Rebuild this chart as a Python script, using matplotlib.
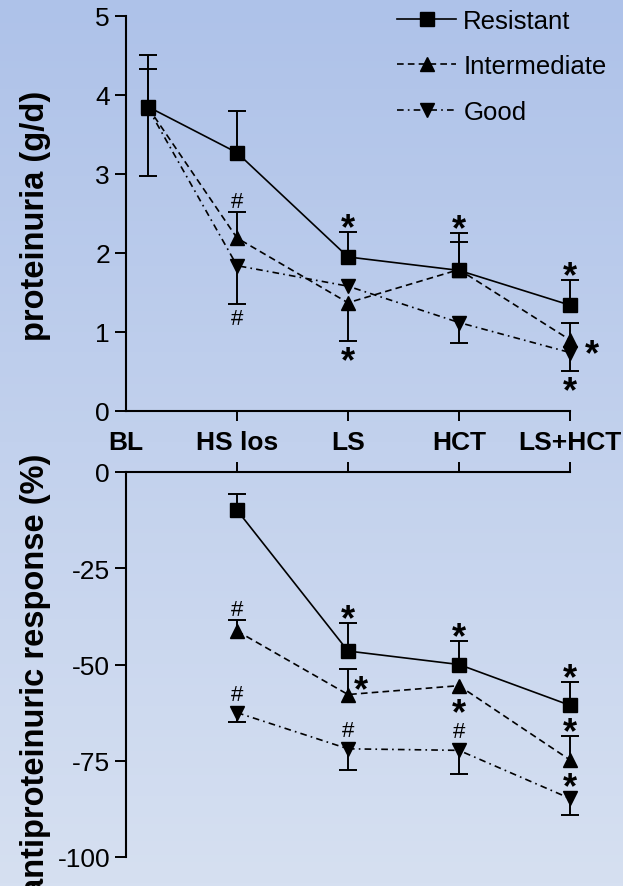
import numpy as np
import matplotlib
matplotlib.use("Agg")
import matplotlib.pyplot as plt
from matplotlib.textpath import TextPath
from matplotlib.font_manager import FontProperties

plt.rcParams["font.family"] = ["Liberation Sans", "DejaVu Sans"]
plt.rcParams["axes.unicode_minus"] = False

# ---------------------------------------------------------------- data
timepoints = ["BL", "HS los", "LS", "HCT", "LS+HCT"]

# proteinuria (g/d), mean with one-sided error bars
prot_resistant = [3.85, 3.27, 1.95, 1.78, 1.34]
prot_resistant_up = [0.66, 0.53, 0.32, 0.47, 0.32]
prot_resistant_down = [0, 0, 0, 0, 0]

prot_intermediate = [3.84, 2.19, 1.37, 1.79, 0.90]
prot_intermediate_up = [0.49, 0.33, 0, 0.35, 0.22]
prot_intermediate_down = [0, 0, 0.48, 0, 0]

prot_good = [3.83, 1.84, 1.58, 1.12, 0.74]
prot_good_up = [0, 0, 0, 0, 0]
prot_good_down = [0.86, 0.48, 0, 0.26, 0.23]

# antiproteinuric response (%) relative to baseline
resp_resistant = [np.nan, -9.9, -46.5, -50.0, -60.6]
resp_resistant_up = [0, 4.2, 7.3, 6.1, 6.1]
resp_resistant_down = [0, 0, 0, 0, 0]

resp_intermediate = [np.nan, -41.3, -57.8, -55.5, -74.8]
resp_intermediate_up = [0, 2.8, 6.6, 0, 6.2]
resp_intermediate_down = [0, 0, 0, 0, 0]

resp_good = [np.nan, -62.5, -71.9, -72.3, -84.8]
resp_good_up = [0, 0, 0, 0, 0]
resp_good_down = [0, 2.5, 5.5, 6.1, 4.3]

# significance marks: (panel, group, timepoint index, symbol, side)
marks = [
    ("prot", "Intermediate", 1, "#", "above"),
    ("prot", "Good", 1, "#", "below"),
    ("prot", "Resistant", 2, "*", "above"),
    ("prot", "Intermediate", 2, "*", "below"),
    ("prot", "Resistant", 3, "*", "above"),
    ("prot", "Resistant", 4, "*", "above"),
    ("prot", "Intermediate", 4, "*", "right"),
    ("prot", "Good", 4, "*", "below"),
    ("resp", "Intermediate", 1, "#", "above"),
    ("resp", "Good", 1, "#", "above"),
    ("resp", "Resistant", 2, "*", "above"),
    ("resp", "Intermediate", 2, "*", "upper right"),
    ("resp", "Good", 2, "#", "above"),
    ("resp", "Resistant", 3, "*", "above"),
    ("resp", "Intermediate", 3, "*", "below"),
    ("resp", "Good", 3, "#", "above"),
    ("resp", "Resistant", 4, "*", "above"),
    ("resp", "Intermediate", 4, "*", "above"),
    ("resp", "Good", 4, "*", "above"),
]

# ---------------------------------------------------------------- styles
groups = ["Resistant", "Intermediate", "Good"]
style = {
    "Resistant": dict(marker="s", ls="-"),
    "Intermediate": dict(marker="^", ls=(0, (4, 2.5))),
    "Good": dict(marker="v", ls=(0, (4, 2.5, 1, 2.5))),
}
panels = {
    "prot": {
        "Resistant": (prot_resistant, prot_resistant_up, prot_resistant_down),
        "Intermediate": (prot_intermediate, prot_intermediate_up, prot_intermediate_down),
        "Good": (prot_good, prot_good_up, prot_good_down),
    },
    "resp": {
        "Resistant": (resp_resistant, resp_resistant_up, resp_resistant_down),
        "Intermediate": (resp_intermediate, resp_intermediate_up, resp_intermediate_down),
        "Good": (resp_good, resp_good_up, resp_good_down),
    },
}

W, H = 623, 887
PX = 72 / 100  # points per pixel
LW = 1.2
MS = 10
MARKER_HALF_PX = 7.5
BL_SHIFT = 0.2

fig = plt.figure(figsize=(W / 100, H / 100), dpi=100)

# soft vertical background gradient
bg = fig.add_axes([0, 0, 1, 1], zorder=-10)
t = np.linspace(0, 1, 256)[:, None, None]
top_c = np.array([174, 194, 233]) / 255
bot_c = np.array([214, 224, 241]) / 255
bg.imshow(top_c * (1 - t) + bot_c * t, aspect="auto", extent=[0, 1, 0, 1], origin="upper")
bg.axis("off")


def box(left, top, right, bottom):
    return [left / W, 1 - bottom / H, (right - left) / W, (bottom - top) / H]


ax1 = fig.add_axes(box(126, 17, 570, 412))
ax2 = fig.add_axes(box(126, 473, 570, 858))
axes = {"prot": ax1, "resp": ax2}

x = np.arange(len(timepoints), dtype=float)
x_plot = x.copy()
x_plot[0] += BL_SHIFT

for ax in (ax1, ax2):
    ax.set_facecolor("none")
    ax.set_xlim(0, 4)
    ax.spines["right"].set_visible(False)
    for s in ax.spines.values():
        s.set_linewidth(1.5)
    ax.tick_params(axis="y", direction="out", length=8, width=1.4,
                   labelsize=19, pad=3.5)
    ax.tick_params(axis="x", direction="out", length=7, width=1.4, pad=7)

lines = {}
for key, ax in axes.items():
    for g in groups:
        vals, up, down = (np.asarray(a, float) for a in panels[key][g])
        for sign, err in ((1, up), (-1, down)):
            m = err > 0
            ends = vals[m] + sign * err[m]
            ax.vlines(x_plot[m], vals[m], ends, colors="black", lw=1.4,
                      zorder=2, clip_on=False)
            ax.plot(x_plot[m], ends, ls="none", marker="_", ms=12.5, mew=1.4,
                    color="black", zorder=2, clip_on=False)
        ln, = ax.plot(x_plot, vals, color="black", lw=LW, ms=MS, mew=1,
                      zorder=3, label=g, clip_on=False, **style[g])
        lines[(key, g)] = ln

# top panel axes
ax1.set_ylim(0, 5)
ax1.set_yticks(np.arange(0, 6))
ax1.spines["top"].set_visible(False)
ax1.set_xticks(x)
ax1.set_xticklabels(timepoints, fontsize=19, fontweight="bold")
ax1.xaxis.get_major_ticks()[0].tick1line.set_visible(False)

# bottom panel axes
ax2.set_ylim(-100, 0)
ax2.set_yticks([0, -25, -50, -75, -100])
ax2.spines["bottom"].set_visible(False)
ax2.xaxis.set_ticks_position("top")
ax2.set_xticks(x[1:])
ax2.set_xticklabels([])

# axis titles
fig.text(36 / W, 1 - 216 / H, "proteinuria (g/d)", rotation=90, ha="center",
         va="center", fontsize=23.5, fontweight="bold")
fig.text(36 / W, 1 - 675 / H, "antiproteinuric response (%)", rotation=90,
         ha="center", va="center", fontsize=23.5, fontweight="bold")

# legend
ax1.legend(handles=[lines[("prot", g)] for g in groups], loc="upper left",
           bbox_to_anchor=(397 / W, 1 - 10 / H), bbox_transform=fig.transFigure,
           frameon=False, fontsize=18.5, handlelength=2.3, handletextpad=0.28,
           labelspacing=0.83, borderpad=0, borderaxespad=0)

# significance symbols, centred on their ink
sym_font = {
    "*": dict(size=26, weight="bold"),
    "#": dict(size=16, weight="normal"),
}


def ink_center(sym):
    f = sym_font[sym]
    fp = FontProperties(family="Liberation Sans", weight=f["weight"])
    ext = TextPath((0, 0), sym, size=f["size"], prop=fp).get_extents()
    return (ext.x0 + ext.x1) / 2, (ext.y0 + ext.y1) / 2


for key, g, i, sym, side in marks:
    vals, up, down = panels[key][g]
    v = vals[i]
    gap = 13 if sym == "#" else 12
    dx_px, dy_px, y = 0.0, 0.0, v
    if side == "above":
        y = v + up[i]
        dy_px = gap + (0 if up[i] > 0 else MARKER_HALF_PX)
    elif side == "below":
        y = v - down[i]
        dy_px = -(gap + (0 if down[i] > 0 else MARKER_HALF_PX))
    elif side == "right":
        dx_px, dy_px = 22, -6
    elif side == "upper right":
        dx_px, dy_px = 13, 12.5
    cx, cy = ink_center(sym)
    f = sym_font[sym]
    axes[key].annotate(sym, xy=(x_plot[i], y),
                       xytext=(dx_px * PX - cx, dy_px * PX - cy),
                       textcoords="offset points", ha="left", va="baseline",
                       fontsize=f["size"], fontweight=f["weight"],
                       annotation_clip=False, zorder=4)

fig.savefig("out.png", dpi=100)
